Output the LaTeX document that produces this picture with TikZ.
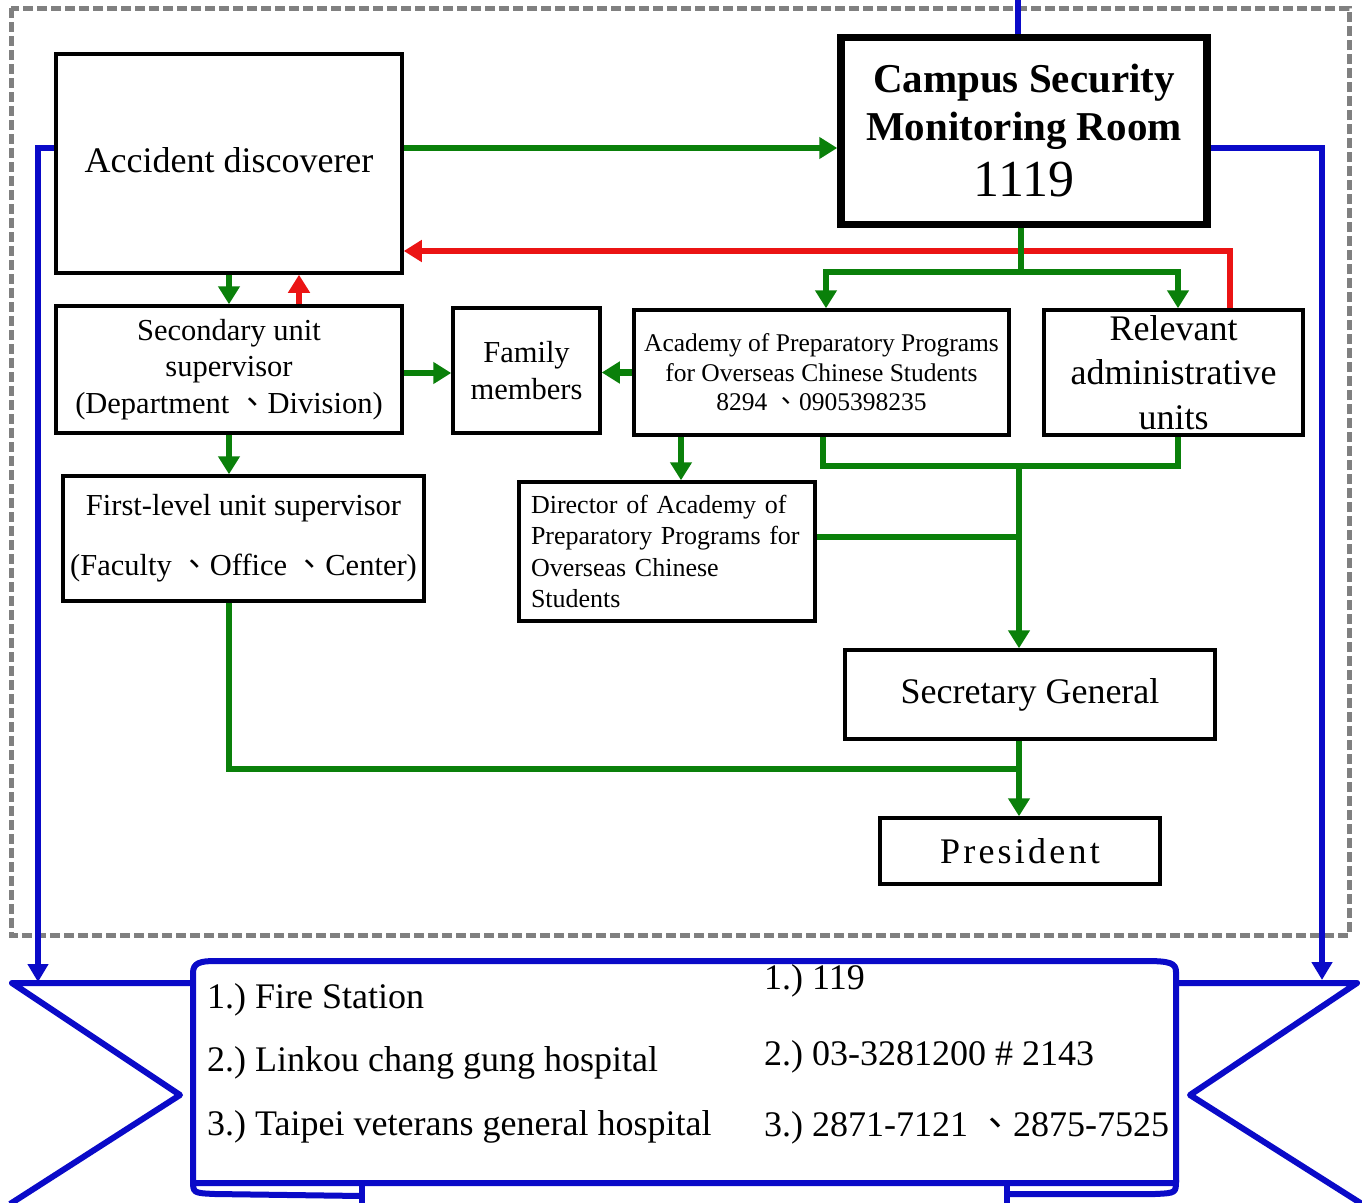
\documentclass[tikz,border=0pt]{standalone}
\usepackage{fontspec}
\setmainfont{Liberation Serif}
\newfontfamily\cjkf{Noto Sans CJK TC}
\newcommand{\cjkcomma}{\hspace{0.25em}{\cjkf 、}}
\usetikzlibrary{arrows.meta}
\definecolor{grn}{RGB}{10,128,10}
\definecolor{redc}{RGB}{235,20,20}
\definecolor{bluec}{RGB}{10,10,200}
\definecolor{grayd}{RGB}{128,128,128}
\tikzset{
  box/.style={draw=black, line width=3.5pt, fill=white, inner sep=0pt, align=center},
  gline/.style={draw=grn, line width=6.5pt},
  garr/.style={gline, -{Triangle[width=21pt,length=18pt]}},
  rarr/.style={draw=redc, line width=6pt, -{Triangle[width=21pt,length=18pt]}},
  bline/.style={draw=bluec, line width=6pt},
  barr/.style={bline, -{Triangle[width=20pt,length=18pt]}},
  ban/.style={draw=bluec, line width=6pt, line join=round},
  bantext/.style={anchor=west, inner sep=0pt, font=\fontsize{36}{36}\selectfont},
}
\begin{document}
\begin{tikzpicture}[x=1pt,y=-1pt]
\useasboundingbox (0,0) rectangle (1362,1202);
\fill[white] (0,0) rectangle (1362,1202);
% dashed frame
\draw[grayd, line width=5pt, dash pattern=on 10pt off 4pt] (11,8) rectangle (1349,935);

% boxes
\node[box, minimum width=346pt, minimum height=219pt, font=\fontsize{36}{36}\selectfont] (acc) at (229,163.5) {\raisebox{6.5pt}{Accident discoverer}};
\node[box, line width=7.5pt, minimum width=366pt, minimum height=187pt, font=\fontsize{41}{48}\selectfont\bfseries] (cs) at (1024,131)
  {Campus Security\\Monitoring Room\\[8pt]{\mdseries\fontsize{52}{52}\selectfont 1119}};
\node[box, minimum width=346pt, minimum height=127pt, font=\fontsize{30.5}{36.5}\selectfont] (sec) at (229,369.5)
  {Secondary unit\\supervisor\\(Department\cjkcomma{}Division)};
\node[box, minimum width=147pt, minimum height=125pt, font=\fontsize{30.5}{37}\selectfont] (fam) at (526.5,370.5)
  {Family\\members};
\node[box, minimum width=375pt, minimum height=125pt, font=\fontsize{25.5}{29.5}\selectfont] (aca) at (821.5,372.5)
  {Academy of Preparatory Programs\\for Overseas Chinese Students\\8294\cjkcomma{}0905398235};
\node[box, minimum width=259pt, minimum height=125pt, font=\fontsize{36}{44.5}\selectfont] (rel) at (1173.5,372.5)
  {Relevant\\administrative\\units};
\node[box, minimum width=361pt, minimum height=125pt, font=\fontsize{30.5}{60}\selectfont] (fst) at (243.5,538.5)
  {First-level unit supervisor\\(Faculty\cjkcomma{}Office\cjkcomma{}Center)};
\node[box, align=left, text width=272pt, minimum width=296pt, minimum height=139pt, font=\fontsize{26}{31.3}\selectfont] (dir) at (667,551.5)
  {Director of Academy of\\Preparatory Programs for\\Overseas Chinese\\Students};
\node[box, minimum width=370pt, minimum height=89pt, font=\fontsize{36}{36}\selectfont] (sg) at (1030,694.5) {Secretary General};
\node[box, minimum width=280pt, minimum height=66pt, font=\fontsize{36}{36}\selectfont\addfontfeature{LetterSpace=9}] (pres) at (1020,851) {President};

% junctions
\coordinate (j1) at (1021,272);
\coordinate (j2) at (1019,466);
\coordinate (j3) at (1019,769);
\coordinate (topin) at (1018,0);
\coordinate (bl) at (38,982);
\coordinate (br) at (1322,980);

% green and red connectors
\draw[garr] ([yshift=15.5pt]acc.east) -- ([yshift=15.5pt]acc.east -| cs.west);
\draw[garr] (acc.south) -- (sec.north);
\draw[rarr] ([xshift=70pt]sec.north) -- ([xshift=70pt]acc.south);
\draw[rarr] ([xshift=56.5pt]rel.north) |- ([yshift=-87.5pt]acc.east);
\draw[gline] (cs.south -| j1) -- (j1);
\draw[garr] (j1) -| ([xshift=4.5pt]aca.north);
\draw[garr] (j1) -| ([xshift=4.5pt]rel.north);
\draw[garr] ([yshift=-3.5pt]sec.east) -- ([yshift=-3.5pt]sec.east -| fam.west);
\draw[garr] (aca.west) -- (aca.west -| fam.east);
\draw[garr] (sec.south) -- (sec.south |- fst.north);
\draw[garr] ([xshift=-140.5pt]aca.south) -- ([xshift=-140.5pt]aca.south |- dir.north);
\draw[gline] ([xshift=1.5pt]aca.south) |- ([xshift=4.5pt]rel.south |- j2) -- ([xshift=4.5pt]rel.south);
\draw[garr] (j2) -- (j2 |- sg.north);
\draw[gline] ([yshift=14.5pt]dir.east) -- ([yshift=14.5pt]dir.east -| j2);
\draw[gline] ([xshift=-14.5pt]fst.south) |- (j3);
\draw[garr] (sg.south -| j3) -- (j3 |- pres.north);

% blue lines
\draw[bline] (topin) -- (topin |- cs.north);
\draw[barr] ([yshift=15.5pt]acc.west) -| (bl);
\draw[barr] ([yshift=-17pt]cs.east) -| (br);

% banner
\draw[ban] (192,983) -- (12,983) -- (180,1095) -- (10,1204);
\draw[ban] (1177,983) -- (1357,983) -- (1190,1095) -- (1362,1204);
\draw[ban, fill=white] (193,1183) -- (193,973) .. controls (193,963) and (200,961) .. (215,961) -- (1145,961)
   .. controls (1170,961) and (1176,963) .. (1176,972) -- (1176,1183) -- cycle;
\draw[ban] (193,1180) .. controls (193,1193) .. (215,1194) -- (362,1196);
\draw[ban] (362,1184) -- (362,1204);
\draw[ban] (1176,1180) .. controls (1176,1193) .. (1155,1194) -- (1007,1194);
\draw[ban] (1007,1184) -- (1007,1204);

% banner texts
\node[bantext] (t1) at (207,1000) {1.)\ Fire Station};
\node[bantext] (t2) at (207,1063) {2.)\ Linkou chang gung hospital};
\node[bantext] (t3) at (207,1127) {3.)\ Taipei veterans general hospital};
\node[bantext] (n1) at (764,981) {1.)\ 119};
\node[bantext] (n2) at (764,1057) {2.)\ 03-3281200 \# 2143};
\node[bantext] (n3) at (764,1128) {3.)\ 2871-7121\cjkcomma{}2875-7525};
\end{tikzpicture}
\end{document}
